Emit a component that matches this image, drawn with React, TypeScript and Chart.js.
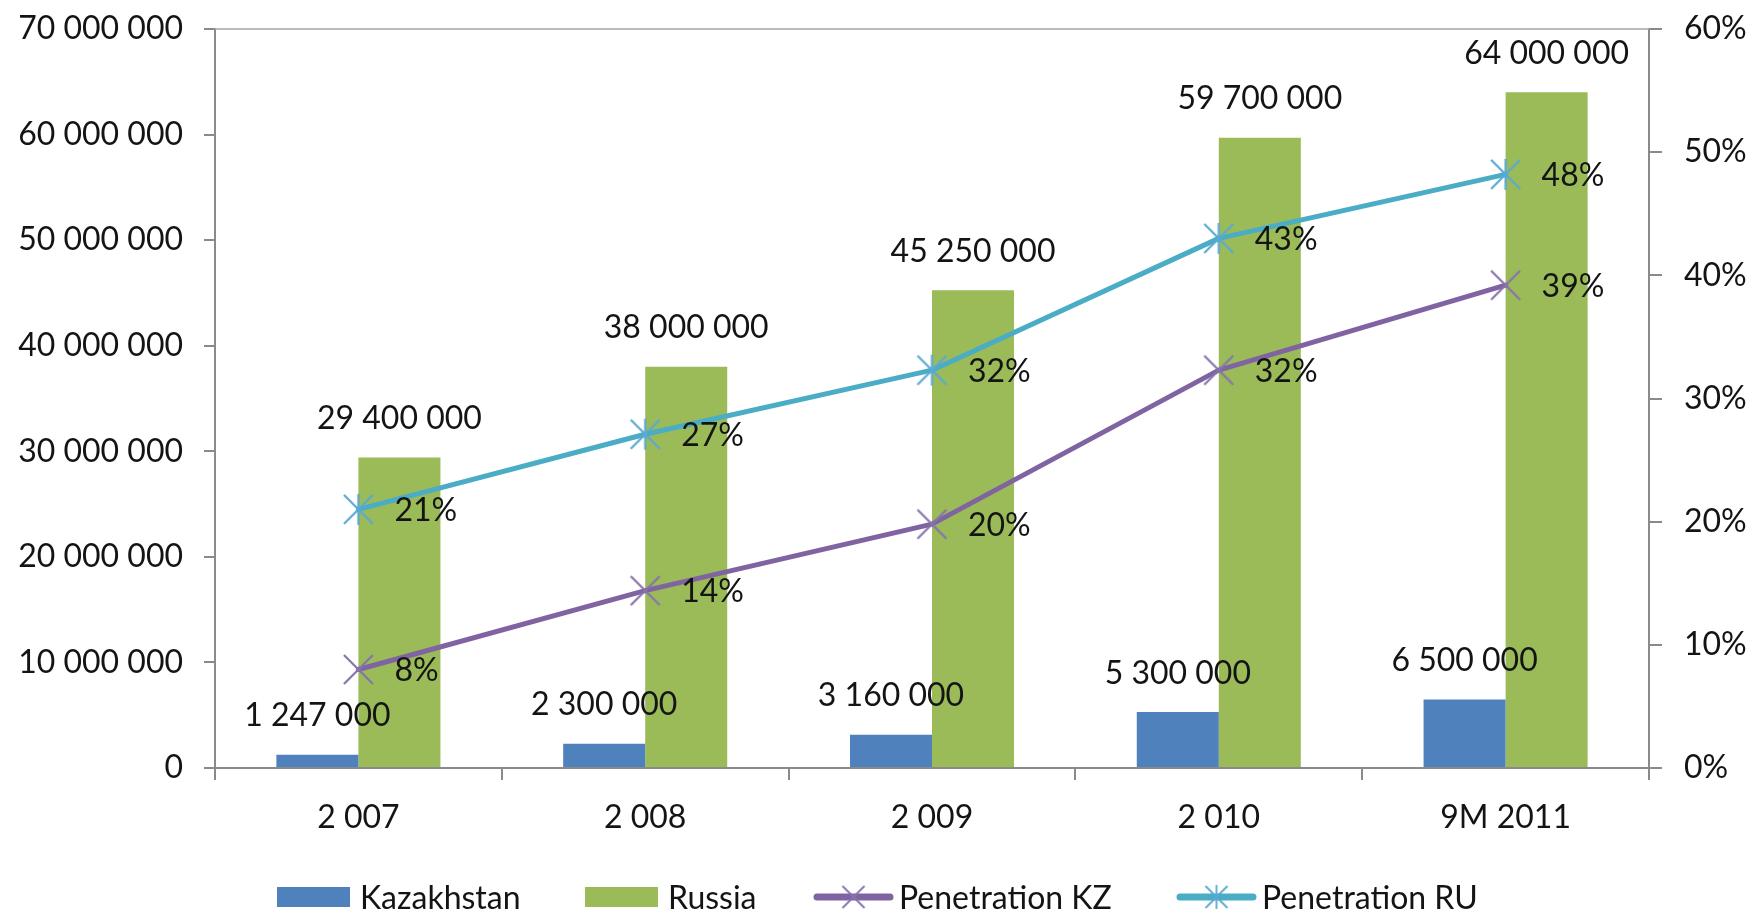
import React, { useEffect, useRef } from "react";
import { Chart, registerables } from "chart.js";

Chart.register(...registerables);

// ---- data ----
const categories = ["2 007", "2 008", "2 009", "2 010", "9M 2011"];
const kazakhstan = [1247000, 2300000, 3160000, 5300000, 6500000];
const russia = [29400000, 38000000, 45250000, 59700000, 64000000];
const penetrationKZ = [0.08, 0.144, 0.198, 0.323, 0.392];
const penetrationRU = [0.21, 0.271, 0.323, 0.43, 0.482];
const seriesNames = ["Kazakhstan", "Russia", "Penetration KZ", "Penetration RU"];
const leftAxisMax = 70000000;
const leftAxisStep = 10000000;
const rightAxisMax = 0.6;
const rightAxisStep = 0.1;

// ---- style ----
const FONT = "Lato, 'Open Sans', sans-serif";
const FONT_SIZE = 32;
const TEXT = "#141414";
const AXIS = "#8a8a8a";
const C_KZ = "#4F81BD";
const C_RU = "#9BBB59";
const C_PKZ = "#8064A2";
const C_PRU = "#4BACC6";
const M_PKZ = "#8674AC";
const M_PRU = "#5AA9D2";
const LEGEND_X = [277, 585, 814, 1177];

const fmtNum = (n: number) =>
  String(Math.round(n)).replace(/\B(?=(\d{3})+(?!\d))/g, " ");
const fmtPct = (v: number) => Math.round(v * 100) + "%";

function makeMarker(kind: "x" | "star", color: string, r: number, lw: number): HTMLCanvasElement {
  const size = Math.ceil(2 * r + 6);
  const c = document.createElement("canvas");
  c.width = size;
  c.height = size;
  const g = c.getContext("2d")!;
  const h = size / 2;
  g.strokeStyle = color;
  g.lineWidth = lw;
  g.lineCap = "butt";
  g.beginPath();
  g.moveTo(h - r, h - r);
  g.lineTo(h + r, h + r);
  g.moveTo(h + r, h - r);
  g.lineTo(h - r, h + r);
  if (kind === "star") {
    g.moveTo(h, h - r - 1);
    g.lineTo(h, h + r + 1);
  }
  g.stroke();
  return c;
}

const noPad = (s: any) => {
  s.paddingTop = 0;
  s.paddingBottom = 0;
};

export default function App() {
  const ref = useRef<HTMLCanvasElement | null>(null);

  useEffect(() => {
    if (!ref.current) return;
    const mKZ = makeMarker("x", M_PKZ, 14.5, 2.2);
    const mRU = makeMarker("star", M_PRU, 14.5, 2.2);
    const lKZ = makeMarker("x", M_PKZ, 11, 1.8);
    const lRU = makeMarker("star", M_PRU, 11, 1.8);
    const legendMarkers: Record<number, HTMLCanvasElement> = { 2: lKZ, 3: lRU };

    const frame = {
      id: "frame",
      beforeDatasetsDraw(chart: any) {
        const { ctx, chartArea } = chart;
        ctx.save();
        ctx.strokeStyle = "#a6a6a6";
        ctx.lineWidth = 1.5;
        ctx.beginPath();
        ctx.moveTo(chartArea.left, chartArea.top);
        ctx.lineTo(chartArea.right, chartArea.top);
        ctx.stroke();
        ctx.restore();
      },
    };

    const labels = {
      id: "dataLabels",
      afterDatasetsDraw(chart: any) {
        const ctx = chart.ctx;
        ctx.save();
        ctx.font = `${FONT_SIZE}px ${FONT}`;
        ctx.fillStyle = TEXT;
        ctx.textBaseline = "alphabetic";
        chart.data.datasets.forEach((ds: any, i: number) => {
          const meta = chart.getDatasetMeta(i);
          meta.data.forEach((el: any, j: number) => {
            const v = ds.data[j] as number;
            if (meta.type === "bar") {
              ctx.textAlign = "center";
              ctx.fillText(fmtNum(v), el.x, el.y - 40 + 11.5);
            } else {
              ctx.textAlign = "left";
              ctx.fillText(fmtPct(v), el.x + 36, el.y + 11.5);
            }
          });
        });
        ctx.restore();
      },
    };

    const legend = {
      id: "customLegend",
      afterDraw(chart: any) {
        const ctx = chart.ctx;
        ctx.save();
        ctx.font = `${FONT_SIZE}px ${FONT}`;
        ctx.textBaseline = "alphabetic";
        ctx.textAlign = "left";
        const cy = 897;
        chart.data.datasets.forEach((d: any, i: number) => {
          const x = LEGEND_X[i];
          if (d.type === "line") {
            ctx.strokeStyle = d.borderColor;
            ctx.lineWidth = 7;
            ctx.lineCap = "round";
            ctx.beginPath();
            ctx.moveTo(x + 3, cy);
            ctx.lineTo(x + 76, cy);
            ctx.stroke();
            const m = legendMarkers[i];
            ctx.drawImage(m, x + 39.5 - m.width / 2, cy - m.height / 2);
            ctx.fillStyle = TEXT;
            ctx.fillText(d.label, x + 85, cy + 11.5);
          } else {
            ctx.fillStyle = d.backgroundColor;
            ctx.fillRect(x, cy - 10, 73, 20);
            ctx.fillStyle = TEXT;
            ctx.fillText(d.label, x + 83, cy + 11.5);
          }
        });
        ctx.restore();
      },
    };

    const tickFont = { family: FONT, size: FONT_SIZE };

    const chart = new Chart(ref.current, {
      type: "bar",
      data: {
        labels: categories,
        datasets: [
          {
            type: "bar",
            label: seriesNames[0],
            data: kazakhstan,
            backgroundColor: C_KZ,
            yAxisID: "y",
            order: 2,
            categoryPercentage: 0.572,
            barPercentage: 1.0,
          },
          {
            type: "bar",
            label: seriesNames[1],
            data: russia,
            backgroundColor: C_RU,
            yAxisID: "y",
            order: 2,
            categoryPercentage: 0.572,
            barPercentage: 1.0,
          },
          {
            type: "line",
            label: seriesNames[2],
            data: penetrationKZ,
            borderColor: C_PKZ,
            backgroundColor: C_PKZ,
            borderWidth: 5,
            borderJoinStyle: "round",
            borderCapStyle: "round",
            pointStyle: mKZ as any,
            pointRadius: 12,
            tension: 0,
            yAxisID: "y1",
            order: 0,
          },
          {
            type: "line",
            label: seriesNames[3],
            data: penetrationRU,
            borderColor: C_PRU,
            backgroundColor: C_PRU,
            borderWidth: 5,
            borderJoinStyle: "round",
            borderCapStyle: "round",
            pointStyle: mRU as any,
            pointRadius: 12,
            tension: 0,
            yAxisID: "y1",
            order: 0,
          },
        ] as any,
      },
      options: {
        animation: false,
        responsive: true,
        maintainAspectRatio: false,
        layout: { padding: { top: 29, left: 0, right: 0, bottom: 0 } },
        plugins: {
          legend: { display: false },
          tooltip: { enabled: false },
        },
        scales: {
          x: {
            type: "category",
            offset: true,
            grid: {
              display: true,
              offset: true,
              drawOnChartArea: false,
              drawTicks: true,
              tickLength: 12,
              color: AXIS,
              lineWidth: 2,
            },
            border: { display: true, color: AXIS, width: 2 },
            ticks: {
              font: tickFont,
              color: TEXT,
              padding: 18,
              maxRotation: 0,
              autoSkip: false,
            },
            afterFit: (s: any) => {
              s.height = 144;
            },
          },
          y: {
            type: "linear",
            position: "left",
            min: 0,
            max: leftAxisMax,
            grid: {
              display: true,
              drawOnChartArea: false,
              drawTicks: true,
              tickLength: 11,
              color: AXIS,
              lineWidth: 2,
            },
            border: { display: true, color: AXIS, width: 2 },
            ticks: {
              stepSize: leftAxisStep,
              font: tickFont,
              color: TEXT,
              padding: 21,
              callback: (v: any) => fmtNum(Number(v)),
            },
            afterFit: (s: any) => {
              s.width = 215;
              noPad(s);
            },
          },
          y1: {
            type: "linear",
            position: "right",
            min: 0,
            max: rightAxisMax,
            grid: {
              display: true,
              drawOnChartArea: false,
              drawTicks: true,
              tickLength: 13,
              color: AXIS,
              lineWidth: 2,
            },
            border: { display: true, color: AXIS, width: 2 },
            ticks: {
              stepSize: rightAxisStep,
              font: tickFont,
              color: TEXT,
              padding: 22,
              callback: (v: any) => fmtPct(Number(v)),
            },
            afterFit: (s: any) => {
              s.width = 105;
              noPad(s);
            },
          },
        },
      } as any,
      plugins: [frame, labels, legend],
    });

    return () => chart.destroy();
  }, []);

  return (
    <div
      style={{
        position: "absolute",
        left: 0,
        top: 0,
        width: 1754,
        height: 912,
        background: "#fff",
      }}
    >
      <canvas ref={ref} />
    </div>
  );
}
